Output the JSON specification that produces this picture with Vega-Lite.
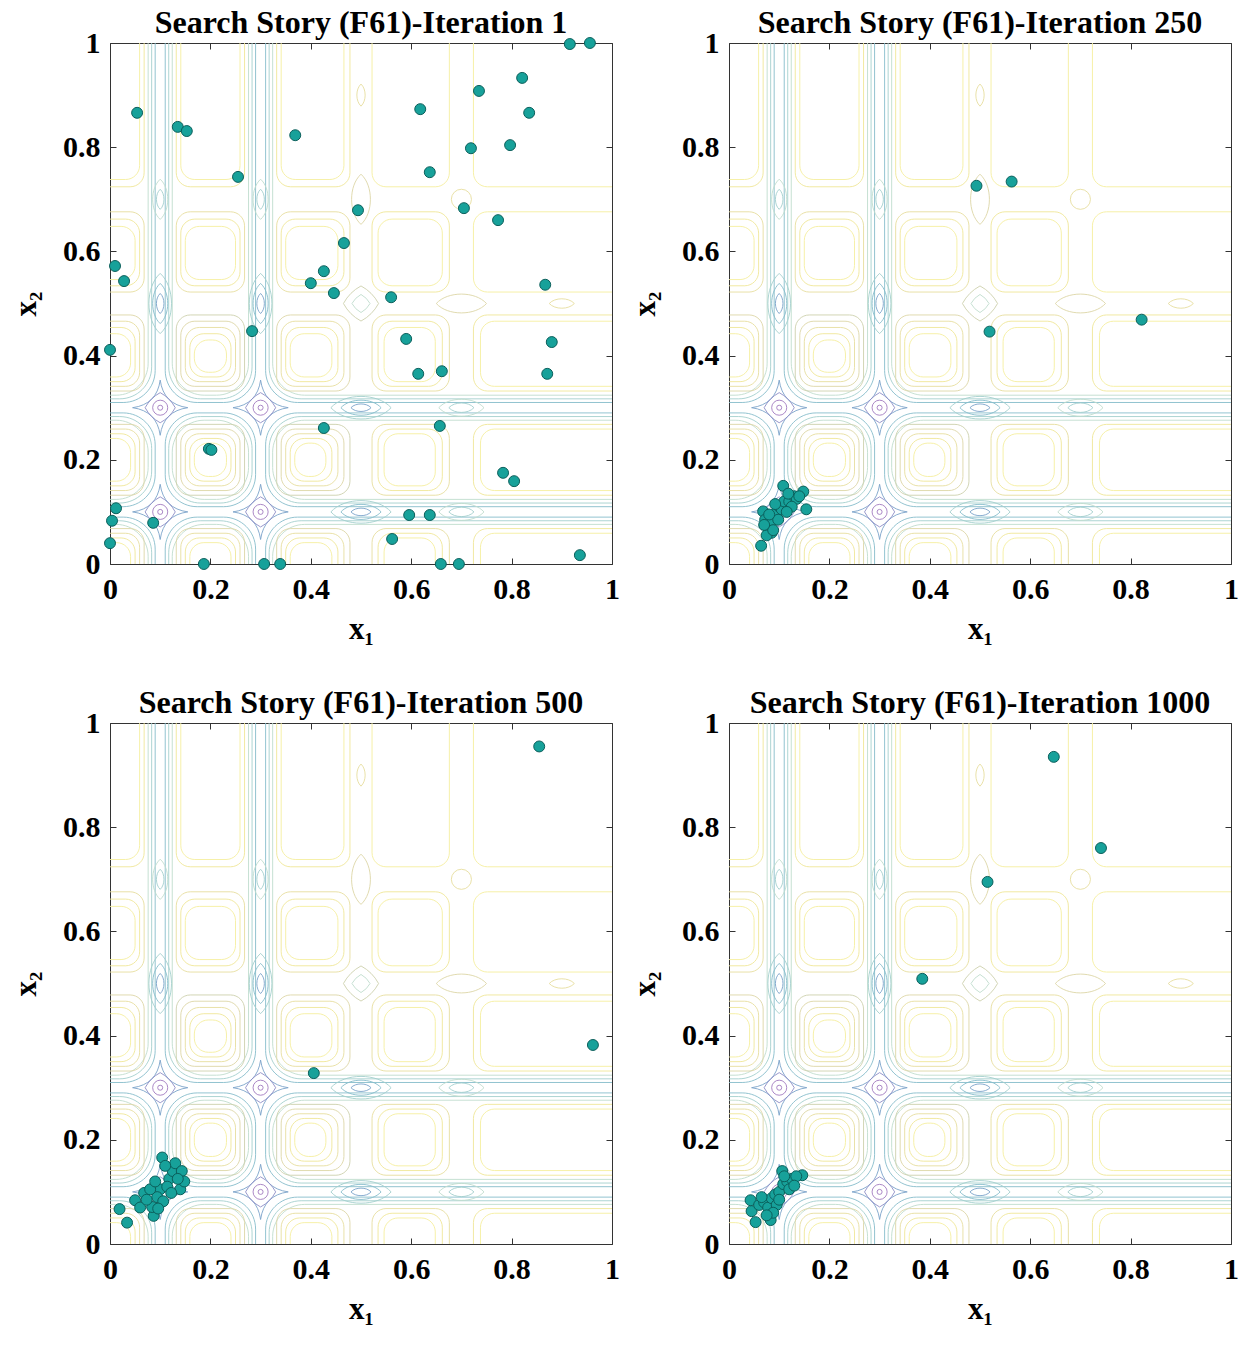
{
  "$schema": "https://vega.github.io/schema/vega-lite/v6.json",
  "background": "white",
  "padding": {"left": 10, "top": 6, "right": 5, "bottom": 5},
  "spacing": 41,
  "datasets": {
    "low": [
      {"x":-0.09,"x2":0.09,"y":-0.09,"y2":0.09,"lev":3},
      {"x":-0.083,"x2":0.083,"y":-0.083,"y2":0.083,"lev":4},
      {"x":-0.076,"x2":0.076,"y":-0.076,"y2":0.076,"lev":5},
      {"x":-0.09,"x2":0.09,"y":0.11,"y2":0.29,"lev":3},
      {"x":-0.083,"x2":0.083,"y":0.117,"y2":0.283,"lev":4},
      {"x":-0.076,"x2":0.076,"y":0.124,"y2":0.276,"lev":5},
      {"x":-0.09,"x2":0.09,"y":0.31,"y2":1.3,"lev":3},
      {"x":-0.083,"x2":0.083,"y":0.317,"y2":1.3,"lev":4},
      {"x":-0.076,"x2":0.076,"y":0.324,"y2":1.3,"lev":5},
      {"x":0.11,"x2":0.29,"y":-0.09,"y2":0.09,"lev":3},
      {"x":0.117,"x2":0.283,"y":-0.083,"y2":0.083,"lev":4},
      {"x":0.124,"x2":0.276,"y":-0.076,"y2":0.076,"lev":5},
      {"x":0.11,"x2":0.29,"y":0.11,"y2":0.29,"lev":3},
      {"x":0.117,"x2":0.283,"y":0.117,"y2":0.283,"lev":4},
      {"x":0.124,"x2":0.276,"y":0.124,"y2":0.276,"lev":5},
      {"x":0.11,"x2":0.29,"y":0.31,"y2":1.3,"lev":3},
      {"x":0.117,"x2":0.283,"y":0.317,"y2":1.3,"lev":4},
      {"x":0.124,"x2":0.276,"y":0.324,"y2":1.3,"lev":5},
      {"x":0.31,"x2":1.3,"y":-0.09,"y2":0.09,"lev":3},
      {"x":0.317,"x2":1.3,"y":-0.083,"y2":0.083,"lev":4},
      {"x":0.324,"x2":1.3,"y":-0.076,"y2":0.076,"lev":5},
      {"x":0.31,"x2":1.3,"y":0.11,"y2":0.29,"lev":3},
      {"x":0.317,"x2":1.3,"y":0.117,"y2":0.283,"lev":4},
      {"x":0.324,"x2":1.3,"y":0.124,"y2":0.276,"lev":5},
      {"x":0.31,"x2":1.3,"y":0.31,"y2":1.3,"lev":3},
      {"x":0.317,"x2":1.3,"y":0.317,"y2":1.3,"lev":4},
      {"x":0.324,"x2":1.3,"y":0.324,"y2":1.3,"lev":5}
    ],
    "cells": [
      {"x":-0.068,"x2":0.068,"y":-0.068,"y2":0.068,"lev":7},
      {"x":-0.059,"x2":0.059,"y":-0.059,"y2":0.059,"lev":8},
      {"x":-0.05,"x2":0.05,"y":-0.05,"y2":0.05,"lev":9},
      {"x":-0.041,"x2":0.041,"y":-0.041,"y2":0.041,"lev":10},
      {"x":-0.068,"x2":0.068,"y":0.132,"y2":0.268,"lev":7},
      {"x":-0.059,"x2":0.059,"y":0.141,"y2":0.259,"lev":8},
      {"x":-0.05,"x2":0.05,"y":0.15,"y2":0.25,"lev":9},
      {"x":-0.041,"x2":0.041,"y":0.159,"y2":0.241,"lev":10},
      {"x":-0.068,"x2":0.068,"y":0.332,"y2":0.478,"lev":7},
      {"x":-0.059,"x2":0.059,"y":0.341,"y2":0.466,"lev":8},
      {"x":-0.05,"x2":0.05,"y":0.35,"y2":0.454,"lev":9},
      {"x":-0.041,"x2":0.041,"y":0.359,"y2":0.442,"lev":10},
      {"x":-0.068,"x2":0.068,"y":0.522,"y2":0.676,"lev":8},
      {"x":-0.059,"x2":0.059,"y":0.534,"y2":0.662,"lev":9},
      {"x":-0.05,"x2":0.05,"y":0.546,"y2":0.648,"lev":10},
      {"x":-0.068,"x2":0.068,"y":0.724,"y2":1.2,"lev":9},
      {"x":-0.059,"x2":0.059,"y":0.738,"y2":1.2,"lev":10},
      {"x":0.132,"x2":0.268,"y":-0.068,"y2":0.068,"lev":7},
      {"x":0.141,"x2":0.259,"y":-0.059,"y2":0.059,"lev":8},
      {"x":0.15,"x2":0.25,"y":-0.05,"y2":0.05,"lev":9},
      {"x":0.159,"x2":0.241,"y":-0.041,"y2":0.041,"lev":10},
      {"x":0.132,"x2":0.268,"y":0.132,"y2":0.268,"lev":6},
      {"x":0.141,"x2":0.259,"y":0.141,"y2":0.259,"lev":7},
      {"x":0.15,"x2":0.25,"y":0.15,"y2":0.25,"lev":8},
      {"x":0.159,"x2":0.241,"y":0.159,"y2":0.241,"lev":9},
      {"x":0.168,"x2":0.232,"y":0.168,"y2":0.232,"lev":10},
      {"x":0.132,"x2":0.268,"y":0.332,"y2":0.478,"lev":6},
      {"x":0.141,"x2":0.259,"y":0.341,"y2":0.466,"lev":7},
      {"x":0.15,"x2":0.25,"y":0.35,"y2":0.454,"lev":8},
      {"x":0.159,"x2":0.241,"y":0.359,"y2":0.442,"lev":9},
      {"x":0.168,"x2":0.232,"y":0.368,"y2":0.43,"lev":10},
      {"x":0.132,"x2":0.268,"y":0.522,"y2":0.676,"lev":8},
      {"x":0.141,"x2":0.259,"y":0.534,"y2":0.662,"lev":9},
      {"x":0.15,"x2":0.25,"y":0.546,"y2":0.648,"lev":10},
      {"x":0.132,"x2":0.268,"y":0.724,"y2":1.2,"lev":9},
      {"x":0.141,"x2":0.259,"y":0.738,"y2":1.2,"lev":10},
      {"x":0.332,"x2":0.478,"y":-0.068,"y2":0.068,"lev":7},
      {"x":0.341,"x2":0.466,"y":-0.059,"y2":0.059,"lev":8},
      {"x":0.35,"x2":0.454,"y":-0.05,"y2":0.05,"lev":9},
      {"x":0.359,"x2":0.442,"y":-0.041,"y2":0.041,"lev":10},
      {"x":0.332,"x2":0.478,"y":0.132,"y2":0.268,"lev":6},
      {"x":0.341,"x2":0.466,"y":0.141,"y2":0.259,"lev":7},
      {"x":0.35,"x2":0.454,"y":0.15,"y2":0.25,"lev":8},
      {"x":0.359,"x2":0.442,"y":0.159,"y2":0.241,"lev":9},
      {"x":0.368,"x2":0.43,"y":0.168,"y2":0.232,"lev":10},
      {"x":0.332,"x2":0.478,"y":0.332,"y2":0.478,"lev":7},
      {"x":0.341,"x2":0.466,"y":0.341,"y2":0.466,"lev":8},
      {"x":0.35,"x2":0.454,"y":0.35,"y2":0.454,"lev":9},
      {"x":0.359,"x2":0.442,"y":0.359,"y2":0.442,"lev":10},
      {"x":0.332,"x2":0.478,"y":0.522,"y2":0.676,"lev":8},
      {"x":0.341,"x2":0.466,"y":0.534,"y2":0.662,"lev":9},
      {"x":0.35,"x2":0.454,"y":0.546,"y2":0.648,"lev":10},
      {"x":0.332,"x2":0.478,"y":0.724,"y2":1.2,"lev":9},
      {"x":0.341,"x2":0.466,"y":0.738,"y2":1.2,"lev":10},
      {"x":0.522,"x2":0.676,"y":-0.068,"y2":0.068,"lev":8},
      {"x":0.534,"x2":0.662,"y":-0.059,"y2":0.059,"lev":9},
      {"x":0.546,"x2":0.648,"y":-0.05,"y2":0.05,"lev":10},
      {"x":0.522,"x2":0.676,"y":0.132,"y2":0.268,"lev":8},
      {"x":0.534,"x2":0.662,"y":0.141,"y2":0.259,"lev":9},
      {"x":0.546,"x2":0.648,"y":0.15,"y2":0.25,"lev":10},
      {"x":0.522,"x2":0.676,"y":0.332,"y2":0.478,"lev":8},
      {"x":0.534,"x2":0.662,"y":0.341,"y2":0.466,"lev":9},
      {"x":0.546,"x2":0.648,"y":0.35,"y2":0.454,"lev":10},
      {"x":0.522,"x2":0.676,"y":0.522,"y2":0.676,"lev":9},
      {"x":0.534,"x2":0.662,"y":0.534,"y2":0.662,"lev":10},
      {"x":0.522,"x2":0.676,"y":0.724,"y2":1.2,"lev":10},
      {"x":0.724,"x2":1.2,"y":-0.068,"y2":0.068,"lev":9},
      {"x":0.738,"x2":1.2,"y":-0.059,"y2":0.059,"lev":10},
      {"x":0.724,"x2":1.2,"y":0.132,"y2":0.268,"lev":9},
      {"x":0.738,"x2":1.2,"y":0.141,"y2":0.259,"lev":10},
      {"x":0.724,"x2":1.2,"y":0.332,"y2":0.478,"lev":9},
      {"x":0.738,"x2":1.2,"y":0.341,"y2":0.466,"lev":10},
      {"x":0.724,"x2":1.2,"y":0.522,"y2":0.676,"lev":10},
      {"x":0.724,"x2":1.2,"y":0.724,"y2":1.2,"lev":10}
    ],
    "minima": [
      {"x":0.1,"y":0.1,"r":0.055,"lev":2,"kind":"star"},
      {"x":0.1,"y":0.1,"r":0.03,"lev":1,"kind":"rdiamond"},
      {"x":0.1,"y":0.1,"r":0.015,"lev":0,"kind":"circle"},
      {"x":0.1,"y":0.1,"r":0.005,"lev":0,"kind":"circle"},
      {"x":0.1,"y":0.3,"r":0.055,"lev":2,"kind":"star"},
      {"x":0.1,"y":0.3,"r":0.03,"lev":1,"kind":"rdiamond"},
      {"x":0.1,"y":0.3,"r":0.015,"lev":0,"kind":"circle"},
      {"x":0.1,"y":0.3,"r":0.005,"lev":0,"kind":"circle"},
      {"x":0.3,"y":0.1,"r":0.055,"lev":2,"kind":"star"},
      {"x":0.3,"y":0.1,"r":0.03,"lev":1,"kind":"rdiamond"},
      {"x":0.3,"y":0.1,"r":0.015,"lev":0,"kind":"circle"},
      {"x":0.3,"y":0.1,"r":0.005,"lev":0,"kind":"circle"},
      {"x":0.3,"y":0.3,"r":0.055,"lev":2,"kind":"star"},
      {"x":0.3,"y":0.3,"r":0.03,"lev":1,"kind":"rdiamond"},
      {"x":0.3,"y":0.3,"r":0.015,"lev":0,"kind":"circle"},
      {"x":0.3,"y":0.3,"r":0.005,"lev":0,"kind":"circle"},
      {"x":0.5,"y":0.1,"r":0.06,"lev":4,"kind":"heye"},
      {"x":0.5,"y":0.1,"r":0.04,"lev":3,"kind":"heye"},
      {"x":0.5,"y":0.1,"r":0.02,"lev":2,"kind":"heye"},
      {"x":0.5,"y":0.3,"r":0.06,"lev":4,"kind":"heye"},
      {"x":0.5,"y":0.3,"r":0.04,"lev":3,"kind":"heye"},
      {"x":0.5,"y":0.3,"r":0.02,"lev":2,"kind":"heye"},
      {"x":0.1,"y":0.5,"r":0.06,"lev":4,"kind":"veye"},
      {"x":0.1,"y":0.5,"r":0.04,"lev":3,"kind":"veye"},
      {"x":0.1,"y":0.5,"r":0.02,"lev":2,"kind":"veye"},
      {"x":0.3,"y":0.5,"r":0.06,"lev":4,"kind":"veye"},
      {"x":0.3,"y":0.5,"r":0.04,"lev":3,"kind":"veye"},
      {"x":0.3,"y":0.5,"r":0.02,"lev":2,"kind":"veye"},
      {"x":0.7,"y":0.1,"r":0.045,"lev":5,"kind":"heye"},
      {"x":0.7,"y":0.1,"r":0.025,"lev":4,"kind":"heye"},
      {"x":0.7,"y":0.3,"r":0.045,"lev":5,"kind":"heye"},
      {"x":0.7,"y":0.3,"r":0.025,"lev":4,"kind":"heye"},
      {"x":0.1,"y":0.7,"r":0.04,"lev":5,"kind":"veye"},
      {"x":0.1,"y":0.7,"r":0.02,"lev":4,"kind":"veye"},
      {"x":0.3,"y":0.7,"r":0.04,"lev":5,"kind":"veye"},
      {"x":0.3,"y":0.7,"r":0.02,"lev":4,"kind":"veye"},
      {"x":0.5,"y":0.5,"r":0.035,"lev":6,"kind":"rdiamond"},
      {"x":0.5,"y":0.5,"r":0.018,"lev":5,"kind":"rdiamond"},
      {"x":0.7,"y":0.5,"r":0.05,"lev":7,"kind":"heye"},
      {"x":0.5,"y":0.7,"r":0.05,"lev":7,"kind":"veye"},
      {"x":0.7,"y":0.7,"r":0.02,"lev":8,"kind":"circle"},
      {"x":0.9,"y":0.5,"r":0.025,"lev":8,"kind":"heye"},
      {"x":0.5,"y":0.9,"r":0.022,"lev":8,"kind":"veye"}
    ],
    "pts": [
      {"it":1,"x1":0.916,"x2":0.998},{"it":1,"x1":0.956,"x2":1.0},{"it":1,"x1":0.054,"x2":0.866},{"it":1,"x1":0.135,"x2":0.839},
      {"it":1,"x1":0.153,"x2":0.831},{"it":1,"x1":0.369,"x2":0.823},{"it":1,"x1":0.618,"x2":0.873},{"it":1,"x1":0.735,"x2":0.908},
      {"it":1,"x1":0.821,"x2":0.933},{"it":1,"x1":0.835,"x2":0.866},{"it":1,"x1":0.719,"x2":0.798},{"it":1,"x1":0.797,"x2":0.804},
      {"it":1,"x1":0.637,"x2":0.752},{"it":1,"x1":0.255,"x2":0.743},{"it":1,"x1":0.494,"x2":0.679},{"it":1,"x1":0.705,"x2":0.683},
      {"it":1,"x1":0.773,"x2":0.66},{"it":1,"x1":0.466,"x2":0.616},{"it":1,"x1":0.01,"x2":0.572},{"it":1,"x1":0.028,"x2":0.543},
      {"it":1,"x1":0.426,"x2":0.562},{"it":1,"x1":0.4,"x2":0.539},{"it":1,"x1":0.446,"x2":0.52},{"it":1,"x1":0.56,"x2":0.512},
      {"it":1,"x1":0.867,"x2":0.536},{"it":1,"x1":0.283,"x2":0.447},{"it":1,"x1":0.59,"x2":0.432},{"it":1,"x1":0.88,"x2":0.426},
      {"it":1,"x1":0.0,"x2":0.411},{"it":1,"x1":0.614,"x2":0.365},{"it":1,"x1":0.661,"x2":0.37},{"it":1,"x1":0.871,"x2":0.365},
      {"it":1,"x1":0.426,"x2":0.261},{"it":1,"x1":0.657,"x2":0.265},{"it":1,"x1":0.197,"x2":0.221},{"it":1,"x1":0.202,"x2":0.219},
      {"it":1,"x1":0.783,"x2":0.175},{"it":1,"x1":0.805,"x2":0.159},{"it":1,"x1":0.012,"x2":0.107},{"it":1,"x1":0.004,"x2":0.083},
      {"it":1,"x1":0.086,"x2":0.079},{"it":1,"x1":0.596,"x2":0.094},{"it":1,"x1":0.637,"x2":0.094},{"it":1,"x1":0.562,"x2":0.048},
      {"it":1,"x1":0.0,"x2":0.04},{"it":1,"x1":0.187,"x2":0.0},{"it":1,"x1":0.307,"x2":0.0},{"it":1,"x1":0.339,"x2":0.0},
      {"it":1,"x1":0.659,"x2":0.0},{"it":1,"x1":0.695,"x2":0.0},{"it":1,"x1":0.936,"x2":0.017},
      {"it":250,"x1":0.493,"x2":0.726},{"it":250,"x1":0.563,"x2":0.734},{"it":250,"x1":0.519,"x2":0.446},{"it":250,"x1":0.822,"x2":0.469},
      {"it":250,"x1":0.108,"x2":0.15},{"it":250,"x1":0.148,"x2":0.139},{"it":250,"x1":0.154,"x2":0.105},{"it":250,"x1":0.064,"x2":0.035},
      {"it":250,"x1":0.068,"x2":0.101},{"it":250,"x1":0.072,"x2":0.085},{"it":250,"x1":0.078,"x2":0.07},{"it":250,"x1":0.085,"x2":0.06},
      {"it":250,"x1":0.075,"x2":0.055},{"it":250,"x1":0.09,"x2":0.09},{"it":250,"x1":0.095,"x2":0.1},{"it":250,"x1":0.1,"x2":0.11},
      {"it":250,"x1":0.105,"x2":0.105},{"it":250,"x1":0.11,"x2":0.12},{"it":250,"x1":0.12,"x2":0.12},{"it":250,"x1":0.13,"x2":0.13},
      {"it":250,"x1":0.135,"x2":0.125},{"it":250,"x1":0.14,"x2":0.13},{"it":250,"x1":0.125,"x2":0.11},{"it":250,"x1":0.115,"x2":0.1},
      {"it":250,"x1":0.082,"x2":0.078},{"it":250,"x1":0.088,"x2":0.065},{"it":250,"x1":0.098,"x2":0.085},{"it":250,"x1":0.07,"x2":0.075},
      {"it":250,"x1":0.08,"x2":0.095},{"it":250,"x1":0.092,"x2":0.115},{"it":250,"x1":0.118,"x2":0.135},
      {"it":500,"x1":0.855,"x2":0.955},{"it":500,"x1":0.962,"x2":0.382},{"it":500,"x1":0.406,"x2":0.328},
      {"it":500,"x1":0.019,"x2":0.067},{"it":500,"x1":0.034,"x2":0.041},{"it":500,"x1":0.087,"x2":0.054},{"it":500,"x1":0.104,"x2":0.166},
      {"it":500,"x1":0.05,"x2":0.084},{"it":500,"x1":0.068,"x2":0.098},{"it":500,"x1":0.06,"x2":0.07},{"it":500,"x1":0.084,"x2":0.071},
      {"it":500,"x1":0.1,"x2":0.105},{"it":500,"x1":0.118,"x2":0.125},{"it":500,"x1":0.125,"x2":0.14},{"it":500,"x1":0.13,"x2":0.155},
      {"it":500,"x1":0.143,"x2":0.14},{"it":500,"x1":0.094,"x2":0.09},{"it":500,"x1":0.114,"x2":0.11},{"it":500,"x1":0.14,"x2":0.105},
      {"it":500,"x1":0.148,"x2":0.12},{"it":500,"x1":0.11,"x2":0.15},{"it":500,"x1":0.073,"x2":0.085},{"it":500,"x1":0.08,"x2":0.105},
      {"it":500,"x1":0.09,"x2":0.12},{"it":500,"x1":0.122,"x2":0.098},{"it":500,"x1":0.135,"x2":0.125},{"it":500,"x1":0.106,"x2":0.082},
      {"it":500,"x1":0.096,"x2":0.068},
      {"it":1000,"x1":0.647,"x2":0.935},{"it":1000,"x1":0.741,"x2":0.76},{"it":1000,"x1":0.515,"x2":0.695},{"it":1000,"x1":0.385,"x2":0.509},
      {"it":1000,"x1":0.053,"x2":0.042},{"it":1000,"x1":0.043,"x2":0.084},{"it":1000,"x1":0.045,"x2":0.063},{"it":1000,"x1":0.083,"x2":0.046},
      {"it":1000,"x1":0.106,"x2":0.14},{"it":1000,"x1":0.146,"x2":0.132},{"it":1000,"x1":0.06,"x2":0.075},{"it":1000,"x1":0.07,"x2":0.08},
      {"it":1000,"x1":0.078,"x2":0.07},{"it":1000,"x1":0.085,"x2":0.088},{"it":1000,"x1":0.092,"x2":0.095},{"it":1000,"x1":0.1,"x2":0.1},
      {"it":1000,"x1":0.108,"x2":0.115},{"it":1000,"x1":0.116,"x2":0.12},{"it":1000,"x1":0.125,"x2":0.125},{"it":1000,"x1":0.134,"x2":0.13},
      {"it":1000,"x1":0.12,"x2":0.105},{"it":1000,"x1":0.095,"x2":0.075},{"it":1000,"x1":0.088,"x2":0.06},{"it":1000,"x1":0.075,"x2":0.055},
      {"it":1000,"x1":0.11,"x2":0.13},{"it":1000,"x1":0.13,"x2":0.112},{"it":1000,"x1":0.1,"x2":0.085},{"it":1000,"x1":0.065,"x2":0.09}
    ]
  },
  "config": {
    "font": "Liberation Serif",
    "view": {"stroke": "#333", "strokeWidth": 1},
    "title": {"font": "Liberation Serif", "fontSize": 32, "fontWeight": "bold", "color": "#000", "offset": -12},
    "axis": {
      "labelFont": "Liberation Serif", "labelFontSize": 30, "labelFontWeight": "bold", "labelColor": "#000",
      "titleFont": "Liberation Serif", "titleFontSize": 31, "titleFontWeight": "bold", "titleColor": "#000",
      "tickSize": -6, "tickColor": "#333", "domain": false, "grid": false, "labelPadding": 16,
      "labelFlush": false, "labelOverlap": false
    },
    "axisX": {"titlePadding": 10},
    "axisY": {"titlePadding": 20}
  },
  "vconcat": [
    {"spacing": 9, "hconcat": [
      {"width": 502, "height": 521, "title": "Search Story (F61)-Iteration 1",
       "resolve": {"axis": {"x": "independent", "y": "independent"}},
       "layer": [
        {"data": {"name": "low"}, "mark": {"type": "rect", "filled": false, "cornerRadius": 32, "strokeWidth": 0.9, "clip": true},
         "encoding": {
          "x": {"field": "x", "type": "quantitative", "scale": {"domain": [0, 1], "nice": false, "zero": false}, "axis": {"orient": "bottom", "title": "x₁", "values": [0, 0.2, 0.4, 0.6, 0.8, 1], "format": "~g"}},
          "x2": {"field": "x2"},
          "y": {"field": "y", "type": "quantitative", "scale": {"domain": [0, 1], "nice": false, "zero": false}, "axis": {"orient": "left", "title": "x₂", "values": [0, 0.2, 0.4, 0.6, 0.8, 1], "format": "~g"}},
          "y2": {"field": "y2"},
          "color": {"field": "lev", "type": "ordinal", "scale": {"domain": [0,1,2,3,4,5,6,7,8,9,10], "range": ["#a27bbf","#8d8cc6","#7aa3c9","#86bccb","#a3cfcd","#bfdccd","#cdd0ad","#dcd6a6","#e7de9e","#efe697","#f5ee9e"]}, "legend": null}
         }},
        {"data": {"name": "cells"}, "mark": {"type": "rect", "filled": false, "cornerRadius": 14, "strokeWidth": 0.9, "clip": true},
         "encoding": {
          "x": {"field": "x", "type": "quantitative", "scale": {"domain": [0, 1], "nice": false, "zero": false}, "axis": {"orient": "top", "labels": false, "title": null, "values": [0, 0.2, 0.4, 0.6, 0.8, 1], "minExtent": 0, "maxExtent": 0}},
          "x2": {"field": "x2"},
          "y": {"field": "y", "type": "quantitative", "scale": {"domain": [0, 1], "nice": false, "zero": false}, "axis": {"orient": "right", "labels": false, "title": null, "values": [0, 0.2, 0.4, 0.6, 0.8, 1], "minExtent": 0, "maxExtent": 0}},
          "y2": {"field": "y2"},
          "color": {"field": "lev", "type": "ordinal", "legend": null}
         }},
        {"data": {"name": "minima"}, "transform": [{"filter": "datum.kind == 'star'"}],
         "mark": {"type": "point", "shape": "M0,-1Q0.12,-0.12,1,0Q0.12,0.12,0,1Q-0.12,0.12,-1,0Q-0.12,-0.12,0,-1Z", "strokeWidth": 0.9, "opacity": 1, "clip": true},
         "encoding": {"x": {"field": "x", "type": "quantitative", "axis": null}, "y": {"field": "y", "type": "quantitative", "axis": null},
          "size": {"field": "r", "type": "quantitative", "scale": {"type": "pow", "exponent": 2, "domain": [0, 0.1], "range": [0, 10080]}, "legend": null},
          "color": {"field": "lev", "type": "ordinal", "legend": null}}},
        {"data": {"name": "minima"}, "transform": [{"filter": "datum.kind == 'rdiamond'"}],
         "mark": {"type": "point", "shape": "M0,-1Q0.65,-0.65,1,0Q0.65,0.65,0,1Q-0.65,0.65,-1,0Q-0.65,-0.65,0,-1Z", "strokeWidth": 0.9, "opacity": 1, "clip": true},
         "encoding": {"x": {"field": "x", "type": "quantitative", "axis": null}, "y": {"field": "y", "type": "quantitative", "axis": null},
          "size": {"field": "r", "type": "quantitative", "legend": null},
          "color": {"field": "lev", "type": "ordinal", "legend": null}}},
        {"data": {"name": "minima"}, "transform": [{"filter": "datum.kind == 'circle'"}],
         "mark": {"type": "point", "shape": "circle", "strokeWidth": 0.9, "opacity": 1, "clip": true},
         "encoding": {"x": {"field": "x", "type": "quantitative", "axis": null}, "y": {"field": "y", "type": "quantitative", "axis": null},
          "size": {"field": "r", "type": "quantitative", "legend": null},
          "color": {"field": "lev", "type": "ordinal", "legend": null}}},
        {"data": {"name": "minima"}, "transform": [{"filter": "datum.kind == 'heye'"}],
         "mark": {"type": "point", "shape": "M-1,0C-0.55,-0.5,0.55,-0.5,1,0C0.55,0.5,-0.55,0.5,-1,0Z", "strokeWidth": 0.9, "opacity": 1, "clip": true},
         "encoding": {"x": {"field": "x", "type": "quantitative", "axis": null}, "y": {"field": "y", "type": "quantitative", "axis": null},
          "size": {"field": "r", "type": "quantitative", "legend": null},
          "color": {"field": "lev", "type": "ordinal", "legend": null}}},
        {"data": {"name": "minima"}, "transform": [{"filter": "datum.kind == 'veye'"}],
         "mark": {"type": "point", "shape": "M0,-1C0.5,-0.55,0.5,0.55,0,1C-0.5,0.55,-0.5,-0.55,0,-1Z", "strokeWidth": 0.9, "opacity": 1, "clip": true},
         "encoding": {"x": {"field": "x", "type": "quantitative", "axis": null}, "y": {"field": "y", "type": "quantitative", "axis": null},
          "size": {"field": "r", "type": "quantitative", "legend": null},
          "color": {"field": "lev", "type": "ordinal", "legend": null}}},
        {"data": {"name": "pts"}, "transform": [{"filter": "datum.it == 1"}],
         "mark": {"type": "point", "shape": "circle", "filled": true, "fill": "#17a19a", "stroke": "#0b5f5b", "strokeWidth": 1, "size": 120, "opacity": 1},
         "encoding": {"x": {"field": "x1", "type": "quantitative", "axis": null}, "y": {"field": "x2", "type": "quantitative", "axis": null}}}
       ]},
      {"width": 502, "height": 521, "title": "Search Story (F61)-Iteration 250",
       "resolve": {"axis": {"x": "independent", "y": "independent"}},
       "layer": [
        {"data": {"name": "low"}, "mark": {"type": "rect", "filled": false, "cornerRadius": 32, "strokeWidth": 0.9, "clip": true},
         "encoding": {
          "x": {"field": "x", "type": "quantitative", "scale": {"domain": [0, 1], "nice": false, "zero": false}, "axis": {"orient": "bottom", "title": "x₁", "values": [0, 0.2, 0.4, 0.6, 0.8, 1], "format": "~g"}},
          "x2": {"field": "x2"},
          "y": {"field": "y", "type": "quantitative", "scale": {"domain": [0, 1], "nice": false, "zero": false}, "axis": {"orient": "left", "title": "x₂", "values": [0, 0.2, 0.4, 0.6, 0.8, 1], "format": "~g"}},
          "y2": {"field": "y2"},
          "color": {"field": "lev", "type": "ordinal", "scale": {"domain": [0,1,2,3,4,5,6,7,8,9,10], "range": ["#a27bbf","#8d8cc6","#7aa3c9","#86bccb","#a3cfcd","#bfdccd","#cdd0ad","#dcd6a6","#e7de9e","#efe697","#f5ee9e"]}, "legend": null}
         }},
        {"data": {"name": "cells"}, "mark": {"type": "rect", "filled": false, "cornerRadius": 14, "strokeWidth": 0.9, "clip": true},
         "encoding": {
          "x": {"field": "x", "type": "quantitative", "scale": {"domain": [0, 1], "nice": false, "zero": false}, "axis": {"orient": "top", "labels": false, "title": null, "values": [0, 0.2, 0.4, 0.6, 0.8, 1], "minExtent": 0, "maxExtent": 0}},
          "x2": {"field": "x2"},
          "y": {"field": "y", "type": "quantitative", "scale": {"domain": [0, 1], "nice": false, "zero": false}, "axis": {"orient": "right", "labels": false, "title": null, "values": [0, 0.2, 0.4, 0.6, 0.8, 1], "minExtent": 0, "maxExtent": 0}},
          "y2": {"field": "y2"},
          "color": {"field": "lev", "type": "ordinal", "legend": null}
         }},
        {"data": {"name": "minima"}, "transform": [{"filter": "datum.kind == 'star'"}],
         "mark": {"type": "point", "shape": "M0,-1Q0.12,-0.12,1,0Q0.12,0.12,0,1Q-0.12,0.12,-1,0Q-0.12,-0.12,0,-1Z", "strokeWidth": 0.9, "opacity": 1, "clip": true},
         "encoding": {"x": {"field": "x", "type": "quantitative", "axis": null}, "y": {"field": "y", "type": "quantitative", "axis": null},
          "size": {"field": "r", "type": "quantitative", "scale": {"type": "pow", "exponent": 2, "domain": [0, 0.1], "range": [0, 10080]}, "legend": null},
          "color": {"field": "lev", "type": "ordinal", "legend": null}}},
        {"data": {"name": "minima"}, "transform": [{"filter": "datum.kind == 'rdiamond'"}],
         "mark": {"type": "point", "shape": "M0,-1Q0.65,-0.65,1,0Q0.65,0.65,0,1Q-0.65,0.65,-1,0Q-0.65,-0.65,0,-1Z", "strokeWidth": 0.9, "opacity": 1, "clip": true},
         "encoding": {"x": {"field": "x", "type": "quantitative", "axis": null}, "y": {"field": "y", "type": "quantitative", "axis": null},
          "size": {"field": "r", "type": "quantitative", "legend": null},
          "color": {"field": "lev", "type": "ordinal", "legend": null}}},
        {"data": {"name": "minima"}, "transform": [{"filter": "datum.kind == 'circle'"}],
         "mark": {"type": "point", "shape": "circle", "strokeWidth": 0.9, "opacity": 1, "clip": true},
         "encoding": {"x": {"field": "x", "type": "quantitative", "axis": null}, "y": {"field": "y", "type": "quantitative", "axis": null},
          "size": {"field": "r", "type": "quantitative", "legend": null},
          "color": {"field": "lev", "type": "ordinal", "legend": null}}},
        {"data": {"name": "minima"}, "transform": [{"filter": "datum.kind == 'heye'"}],
         "mark": {"type": "point", "shape": "M-1,0C-0.55,-0.5,0.55,-0.5,1,0C0.55,0.5,-0.55,0.5,-1,0Z", "strokeWidth": 0.9, "opacity": 1, "clip": true},
         "encoding": {"x": {"field": "x", "type": "quantitative", "axis": null}, "y": {"field": "y", "type": "quantitative", "axis": null},
          "size": {"field": "r", "type": "quantitative", "legend": null},
          "color": {"field": "lev", "type": "ordinal", "legend": null}}},
        {"data": {"name": "minima"}, "transform": [{"filter": "datum.kind == 'veye'"}],
         "mark": {"type": "point", "shape": "M0,-1C0.5,-0.55,0.5,0.55,0,1C-0.5,0.55,-0.5,-0.55,0,-1Z", "strokeWidth": 0.9, "opacity": 1, "clip": true},
         "encoding": {"x": {"field": "x", "type": "quantitative", "axis": null}, "y": {"field": "y", "type": "quantitative", "axis": null},
          "size": {"field": "r", "type": "quantitative", "legend": null},
          "color": {"field": "lev", "type": "ordinal", "legend": null}}},
        {"data": {"name": "pts"}, "transform": [{"filter": "datum.it == 250"}],
         "mark": {"type": "point", "shape": "circle", "filled": true, "fill": "#17a19a", "stroke": "#0b5f5b", "strokeWidth": 1, "size": 120, "opacity": 1},
         "encoding": {"x": {"field": "x1", "type": "quantitative", "axis": null}, "y": {"field": "x2", "type": "quantitative", "axis": null}}}
       ]}
    ]},
    {"spacing": 9, "hconcat": [
      {"width": 502, "height": 521, "title": "Search Story (F61)-Iteration 500",
       "resolve": {"axis": {"x": "independent", "y": "independent"}},
       "layer": [
        {"data": {"name": "low"}, "mark": {"type": "rect", "filled": false, "cornerRadius": 32, "strokeWidth": 0.9, "clip": true},
         "encoding": {
          "x": {"field": "x", "type": "quantitative", "scale": {"domain": [0, 1], "nice": false, "zero": false}, "axis": {"orient": "bottom", "title": "x₁", "values": [0, 0.2, 0.4, 0.6, 0.8, 1], "format": "~g"}},
          "x2": {"field": "x2"},
          "y": {"field": "y", "type": "quantitative", "scale": {"domain": [0, 1], "nice": false, "zero": false}, "axis": {"orient": "left", "title": "x₂", "values": [0, 0.2, 0.4, 0.6, 0.8, 1], "format": "~g"}},
          "y2": {"field": "y2"},
          "color": {"field": "lev", "type": "ordinal", "scale": {"domain": [0,1,2,3,4,5,6,7,8,9,10], "range": ["#a27bbf","#8d8cc6","#7aa3c9","#86bccb","#a3cfcd","#bfdccd","#cdd0ad","#dcd6a6","#e7de9e","#efe697","#f5ee9e"]}, "legend": null}
         }},
        {"data": {"name": "cells"}, "mark": {"type": "rect", "filled": false, "cornerRadius": 14, "strokeWidth": 0.9, "clip": true},
         "encoding": {
          "x": {"field": "x", "type": "quantitative", "scale": {"domain": [0, 1], "nice": false, "zero": false}, "axis": {"orient": "top", "labels": false, "title": null, "values": [0, 0.2, 0.4, 0.6, 0.8, 1], "minExtent": 0, "maxExtent": 0}},
          "x2": {"field": "x2"},
          "y": {"field": "y", "type": "quantitative", "scale": {"domain": [0, 1], "nice": false, "zero": false}, "axis": {"orient": "right", "labels": false, "title": null, "values": [0, 0.2, 0.4, 0.6, 0.8, 1], "minExtent": 0, "maxExtent": 0}},
          "y2": {"field": "y2"},
          "color": {"field": "lev", "type": "ordinal", "legend": null}
         }},
        {"data": {"name": "minima"}, "transform": [{"filter": "datum.kind == 'star'"}],
         "mark": {"type": "point", "shape": "M0,-1Q0.12,-0.12,1,0Q0.12,0.12,0,1Q-0.12,0.12,-1,0Q-0.12,-0.12,0,-1Z", "strokeWidth": 0.9, "opacity": 1, "clip": true},
         "encoding": {"x": {"field": "x", "type": "quantitative", "axis": null}, "y": {"field": "y", "type": "quantitative", "axis": null},
          "size": {"field": "r", "type": "quantitative", "scale": {"type": "pow", "exponent": 2, "domain": [0, 0.1], "range": [0, 10080]}, "legend": null},
          "color": {"field": "lev", "type": "ordinal", "legend": null}}},
        {"data": {"name": "minima"}, "transform": [{"filter": "datum.kind == 'rdiamond'"}],
         "mark": {"type": "point", "shape": "M0,-1Q0.65,-0.65,1,0Q0.65,0.65,0,1Q-0.65,0.65,-1,0Q-0.65,-0.65,0,-1Z", "strokeWidth": 0.9, "opacity": 1, "clip": true},
         "encoding": {"x": {"field": "x", "type": "quantitative", "axis": null}, "y": {"field": "y", "type": "quantitative", "axis": null},
          "size": {"field": "r", "type": "quantitative", "legend": null},
          "color": {"field": "lev", "type": "ordinal", "legend": null}}},
        {"data": {"name": "minima"}, "transform": [{"filter": "datum.kind == 'circle'"}],
         "mark": {"type": "point", "shape": "circle", "strokeWidth": 0.9, "opacity": 1, "clip": true},
         "encoding": {"x": {"field": "x", "type": "quantitative", "axis": null}, "y": {"field": "y", "type": "quantitative", "axis": null},
          "size": {"field": "r", "type": "quantitative", "legend": null},
          "color": {"field": "lev", "type": "ordinal", "legend": null}}},
        {"data": {"name": "minima"}, "transform": [{"filter": "datum.kind == 'heye'"}],
         "mark": {"type": "point", "shape": "M-1,0C-0.55,-0.5,0.55,-0.5,1,0C0.55,0.5,-0.55,0.5,-1,0Z", "strokeWidth": 0.9, "opacity": 1, "clip": true},
         "encoding": {"x": {"field": "x", "type": "quantitative", "axis": null}, "y": {"field": "y", "type": "quantitative", "axis": null},
          "size": {"field": "r", "type": "quantitative", "legend": null},
          "color": {"field": "lev", "type": "ordinal", "legend": null}}},
        {"data": {"name": "minima"}, "transform": [{"filter": "datum.kind == 'veye'"}],
         "mark": {"type": "point", "shape": "M0,-1C0.5,-0.55,0.5,0.55,0,1C-0.5,0.55,-0.5,-0.55,0,-1Z", "strokeWidth": 0.9, "opacity": 1, "clip": true},
         "encoding": {"x": {"field": "x", "type": "quantitative", "axis": null}, "y": {"field": "y", "type": "quantitative", "axis": null},
          "size": {"field": "r", "type": "quantitative", "legend": null},
          "color": {"field": "lev", "type": "ordinal", "legend": null}}},
        {"data": {"name": "pts"}, "transform": [{"filter": "datum.it == 500"}],
         "mark": {"type": "point", "shape": "circle", "filled": true, "fill": "#17a19a", "stroke": "#0b5f5b", "strokeWidth": 1, "size": 120, "opacity": 1},
         "encoding": {"x": {"field": "x1", "type": "quantitative", "axis": null}, "y": {"field": "x2", "type": "quantitative", "axis": null}}}
       ]},
      {"width": 502, "height": 521, "title": "Search Story (F61)-Iteration 1000",
       "resolve": {"axis": {"x": "independent", "y": "independent"}},
       "layer": [
        {"data": {"name": "low"}, "mark": {"type": "rect", "filled": false, "cornerRadius": 32, "strokeWidth": 0.9, "clip": true},
         "encoding": {
          "x": {"field": "x", "type": "quantitative", "scale": {"domain": [0, 1], "nice": false, "zero": false}, "axis": {"orient": "bottom", "title": "x₁", "values": [0, 0.2, 0.4, 0.6, 0.8, 1], "format": "~g"}},
          "x2": {"field": "x2"},
          "y": {"field": "y", "type": "quantitative", "scale": {"domain": [0, 1], "nice": false, "zero": false}, "axis": {"orient": "left", "title": "x₂", "values": [0, 0.2, 0.4, 0.6, 0.8, 1], "format": "~g"}},
          "y2": {"field": "y2"},
          "color": {"field": "lev", "type": "ordinal", "scale": {"domain": [0,1,2,3,4,5,6,7,8,9,10], "range": ["#a27bbf","#8d8cc6","#7aa3c9","#86bccb","#a3cfcd","#bfdccd","#cdd0ad","#dcd6a6","#e7de9e","#efe697","#f5ee9e"]}, "legend": null}
         }},
        {"data": {"name": "cells"}, "mark": {"type": "rect", "filled": false, "cornerRadius": 14, "strokeWidth": 0.9, "clip": true},
         "encoding": {
          "x": {"field": "x", "type": "quantitative", "scale": {"domain": [0, 1], "nice": false, "zero": false}, "axis": {"orient": "top", "labels": false, "title": null, "values": [0, 0.2, 0.4, 0.6, 0.8, 1], "minExtent": 0, "maxExtent": 0}},
          "x2": {"field": "x2"},
          "y": {"field": "y", "type": "quantitative", "scale": {"domain": [0, 1], "nice": false, "zero": false}, "axis": {"orient": "right", "labels": false, "title": null, "values": [0, 0.2, 0.4, 0.6, 0.8, 1], "minExtent": 0, "maxExtent": 0}},
          "y2": {"field": "y2"},
          "color": {"field": "lev", "type": "ordinal", "legend": null}
         }},
        {"data": {"name": "minima"}, "transform": [{"filter": "datum.kind == 'star'"}],
         "mark": {"type": "point", "shape": "M0,-1Q0.12,-0.12,1,0Q0.12,0.12,0,1Q-0.12,0.12,-1,0Q-0.12,-0.12,0,-1Z", "strokeWidth": 0.9, "opacity": 1, "clip": true},
         "encoding": {"x": {"field": "x", "type": "quantitative", "axis": null}, "y": {"field": "y", "type": "quantitative", "axis": null},
          "size": {"field": "r", "type": "quantitative", "scale": {"type": "pow", "exponent": 2, "domain": [0, 0.1], "range": [0, 10080]}, "legend": null},
          "color": {"field": "lev", "type": "ordinal", "legend": null}}},
        {"data": {"name": "minima"}, "transform": [{"filter": "datum.kind == 'rdiamond'"}],
         "mark": {"type": "point", "shape": "M0,-1Q0.65,-0.65,1,0Q0.65,0.65,0,1Q-0.65,0.65,-1,0Q-0.65,-0.65,0,-1Z", "strokeWidth": 0.9, "opacity": 1, "clip": true},
         "encoding": {"x": {"field": "x", "type": "quantitative", "axis": null}, "y": {"field": "y", "type": "quantitative", "axis": null},
          "size": {"field": "r", "type": "quantitative", "legend": null},
          "color": {"field": "lev", "type": "ordinal", "legend": null}}},
        {"data": {"name": "minima"}, "transform": [{"filter": "datum.kind == 'circle'"}],
         "mark": {"type": "point", "shape": "circle", "strokeWidth": 0.9, "opacity": 1, "clip": true},
         "encoding": {"x": {"field": "x", "type": "quantitative", "axis": null}, "y": {"field": "y", "type": "quantitative", "axis": null},
          "size": {"field": "r", "type": "quantitative", "legend": null},
          "color": {"field": "lev", "type": "ordinal", "legend": null}}},
        {"data": {"name": "minima"}, "transform": [{"filter": "datum.kind == 'heye'"}],
         "mark": {"type": "point", "shape": "M-1,0C-0.55,-0.5,0.55,-0.5,1,0C0.55,0.5,-0.55,0.5,-1,0Z", "strokeWidth": 0.9, "opacity": 1, "clip": true},
         "encoding": {"x": {"field": "x", "type": "quantitative", "axis": null}, "y": {"field": "y", "type": "quantitative", "axis": null},
          "size": {"field": "r", "type": "quantitative", "legend": null},
          "color": {"field": "lev", "type": "ordinal", "legend": null}}},
        {"data": {"name": "minima"}, "transform": [{"filter": "datum.kind == 'veye'"}],
         "mark": {"type": "point", "shape": "M0,-1C0.5,-0.55,0.5,0.55,0,1C-0.5,0.55,-0.5,-0.55,0,-1Z", "strokeWidth": 0.9, "opacity": 1, "clip": true},
         "encoding": {"x": {"field": "x", "type": "quantitative", "axis": null}, "y": {"field": "y", "type": "quantitative", "axis": null},
          "size": {"field": "r", "type": "quantitative", "legend": null},
          "color": {"field": "lev", "type": "ordinal", "legend": null}}},
        {"data": {"name": "pts"}, "transform": [{"filter": "datum.it == 1000"}],
         "mark": {"type": "point", "shape": "circle", "filled": true, "fill": "#17a19a", "stroke": "#0b5f5b", "strokeWidth": 1, "size": 120, "opacity": 1},
         "encoding": {"x": {"field": "x1", "type": "quantitative", "axis": null}, "y": {"field": "x2", "type": "quantitative", "axis": null}}}
       ]}
    ]}
  ]
}
